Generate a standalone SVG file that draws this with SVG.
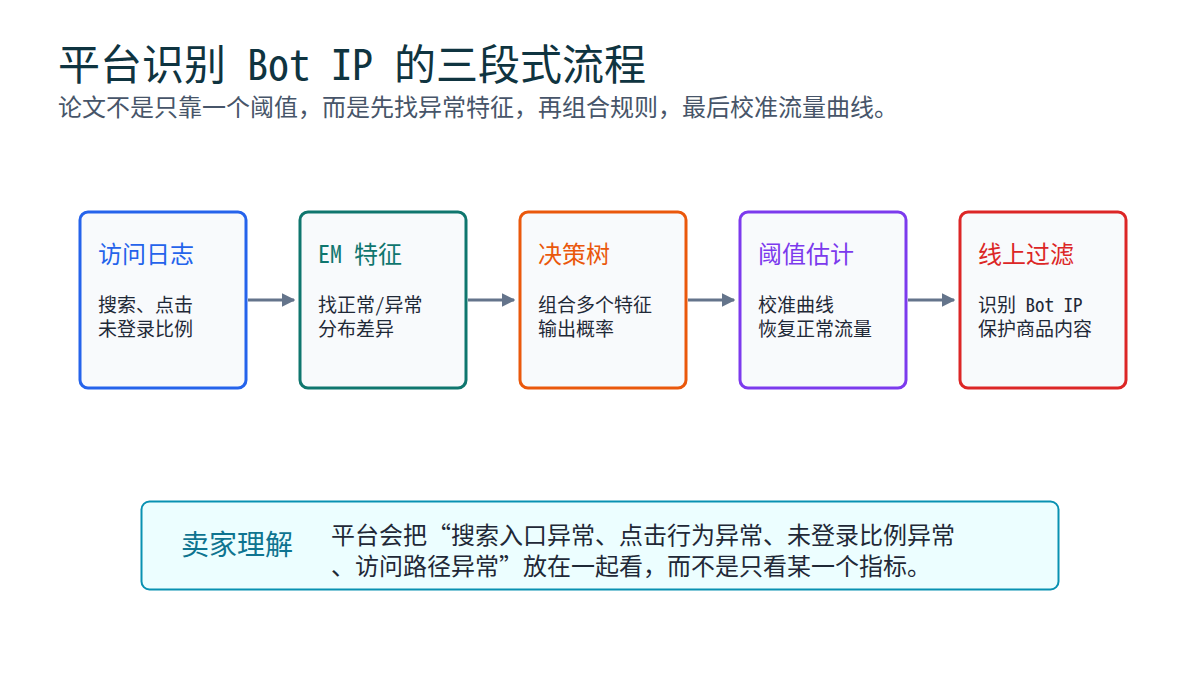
<svg xmlns="http://www.w3.org/2000/svg" width="1200" height="675" viewBox="0 0 1200 675">
<defs>
<style>
text{font-family:"Noto Sans Mono CJK SC","Noto Sans CJK SC","DejaVu Sans Mono",monospace;}
.title{font-size:42px;fill:#0f3440;}
.sub{font-size:24px;fill:#475569;}
.box{fill:#f8fafc;stroke-width:3;}
.head{font-size:24px;}
.body{font-size:19px;fill:#1f2937;}
.conn{stroke:#64748b;stroke-width:3;fill:none;}
</style>
<marker id="arr" viewBox="0 0 10 10" refX="9" refY="5" markerWidth="4.5" markerHeight="5" orient="auto" markerUnits="strokeWidth">
<path d="M0,0 L10,5 L0,10 Z" fill="#64748b"/>
</marker>
</defs>
<rect width="1200" height="675" fill="#ffffff"/>
<text class="title" x="58" y="80">平台识别 Bot IP 的三段式流程</text>
<text class="sub" x="58" y="116">论文不是只靠一个阈值，而是先找异常特征，再组合规则，最后校准流量曲线。</text>

<g id="connectors">
<line class="conn" x1="248" y1="300" x2="294" y2="300" marker-end="url(#arr)"/>
<line class="conn" x1="468" y1="300" x2="514" y2="300" marker-end="url(#arr)"/>
<line class="conn" x1="688" y1="300" x2="734" y2="300" marker-end="url(#arr)"/>
<line class="conn" x1="908" y1="300" x2="954" y2="300" marker-end="url(#arr)"/>
</g>

<g id="node1">
<rect class="box" x="80" y="212" width="166" height="176" rx="8" stroke="#2563eb"/>
<text class="head" x="98" y="263" fill="#2563eb">访问日志</text>
<text class="body" x="98" y="312">搜索、点击</text>
<text class="body" x="98" y="336">未登录比例</text>
</g>
<g id="node2">
<rect class="box" x="300" y="212" width="166" height="176" rx="8" stroke="#0f766e"/>
<text class="head" x="318" y="263" fill="#0f766e">EM 特征</text>
<text class="body" x="318" y="312">找正常/异常</text>
<text class="body" x="318" y="336">分布差异</text>
</g>
<g id="node3">
<rect class="box" x="520" y="212" width="166" height="176" rx="8" stroke="#ea580c"/>
<text class="head" x="538" y="263" fill="#ea580c">决策树</text>
<text class="body" x="538" y="312">组合多个特征</text>
<text class="body" x="538" y="336">输出概率</text>
</g>
<g id="node4">
<rect class="box" x="740" y="212" width="166" height="176" rx="8" stroke="#7c3aed"/>
<text class="head" x="758" y="263" fill="#7c3aed">阈值估计</text>
<text class="body" x="758" y="312">校准曲线</text>
<text class="body" x="758" y="336">恢复正常流量</text>
</g>
<g id="node5">
<rect class="box" x="960" y="212" width="166" height="176" rx="8" stroke="#dc2626"/>
<text class="head" x="978" y="263" fill="#dc2626">线上过滤</text>
<text class="body" x="978" y="312">识别 Bot IP</text>
<text class="body" x="978" y="336">保护商品内容</text>
</g>

<g id="note">
<rect x="141.5" y="501.5" width="917" height="88" rx="8" fill="#ecfeff" stroke="#0891b2" stroke-width="2"/>
<text x="181" y="555" font-size="28" fill="#0e7490">卖家理解</text>
<text x="331" y="544" font-size="24" fill="#1f2937">平台会把“搜索入口异常、点击行为异常、未登录比例异常</text>
<text x="331" y="575" font-size="24" fill="#1f2937">、访问路径异常”放在一起看，而不是只看某一个指标。</text>
</g>
</svg>
